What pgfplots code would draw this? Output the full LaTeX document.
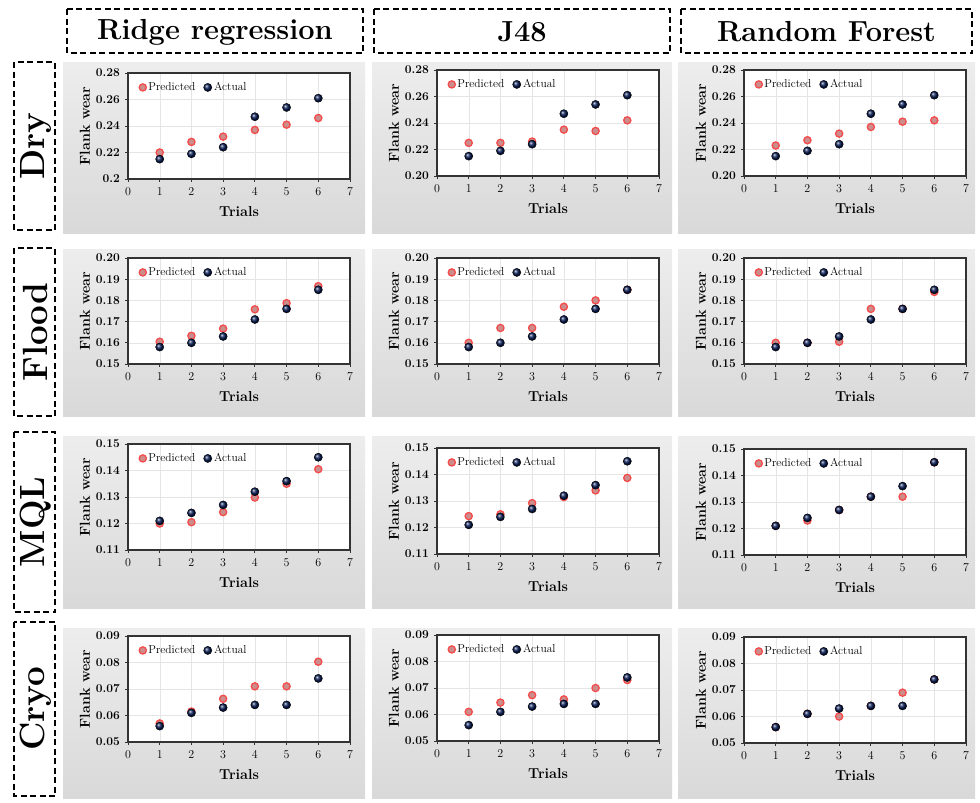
\documentclass[border=0pt]{standalone}
\usepackage{fontspec}
\usepackage{pgfplots}
\pgfplotsset{compat=1.18}
\definecolor{navyb}{RGB}{8,28,85}
\definecolor{predr}{RGB}{245,75,75}
\definecolor{predc}{RGB}{205,140,140}
\pgfplotsset{panel/.style={
  width=222pt,height=106pt,scale only axis,
  anchor=north west,
  xmin=0,xmax=7,xtick={0,1,2,3,4,5,6,7},
  scaled y ticks=false,
  grid=major, grid style={gray!20},
  axis line style={gray!40!black,line width=1.1pt},
  tick style={gray!40!black,line width=0.8pt},
  tick align=outside, tick pos=left, major tick length=3pt,
  xlabel={Trials}, ylabel={Flank wear},
  tick label style={font=\bfseries\fontsize{12}{14}\selectfont},
  xticklabel style={yshift=-2pt},
  yticklabel style={xshift=-1.5pt},
  label style={font=\bfseries\fontsize{14.4}{16}\selectfont},
  ylabel style={yshift=-1pt},
  xlabel style={yshift=-4pt},
  axis background/.style={fill=white},
  legend style={at={(0.045,0.94)},anchor=north west,draw=none,fill=none,
    legend columns=2,font=\fontsize{11.5}{14}\selectfont,
    /tikz/every even column/.append style={column sep=6pt},
    inner sep=1pt},
  legend cell align=left,
  legend image post style={xshift=3pt},
}}
\newcommand{\panel}[8]{%
\begin{axis}[panel,at={(#1pt,-#2pt)},ymin=#3,ymax=#4,ytick={#5},yticklabels={#6}]
\addplot[only marks,mark=*,mark size=3.6pt,mark options={draw=predr,line width=1.3pt,fill=predc}] coordinates {#7};
\addlegendentry{Predicted}
\addplot[only marks,mark=ball,mark size=4.1pt,ball color=navyb] coordinates {#8};
\addlegendentry{Actual}
\end{axis}}
\begin{document}
\begin{tikzpicture}[x=1pt,y=1pt]
\path (0pt,0pt) rectangle (980pt,-803pt);
% panel backgrounds
\foreach \xa/\xb in {63/365,372/672,678/975}{
  \foreach \ya/\yb in {62/233,249/416,436/608,628/798}{
    \shade[top color=gray!14,middle color=white,bottom color=gray!30] (\xa pt,-\ya pt) rectangle (\xb pt,-\yb pt);
  }}
% headers
\tikzset{hdr/.style={draw=black,line width=2.2pt,dash pattern=on 6pt off 3.5pt}}
\def\hfont{\bfseries\fontsize{29}{31}\selectfont}
\def\rfont{\bfseries\fontsize{35}{37}\selectfont}
\draw[hdr] (67pt,-9pt) rectangle (363pt,-53pt);
\node[font=\hfont] at (215pt,-32pt) {Ridge regression};
\draw[hdr] (374pt,-9pt) rectangle (670pt,-53pt);
\node[font=\hfont] at (522pt,-32pt) {J48};
\draw[hdr] (681pt,-9pt) rectangle (972pt,-53pt);
\node[font=\hfont] at (826.5pt,-32pt) {Random Forest};
\draw[hdr] (14pt,-62pt) rectangle (55pt,-230pt);
\node[font=\rfont,rotate=90] at (35.5pt,-146pt) {Dry};
\draw[hdr] (14pt,-248pt) rectangle (55pt,-416pt);
\node[font=\rfont,rotate=90] at (35.5pt,-332pt) {Flood};
\draw[hdr] (14pt,-432pt) rectangle (55pt,-612pt);
\node[font=\rfont,rotate=90] at (35.5pt,-522pt) {MQL};
\draw[hdr] (14pt,-622pt) rectangle (55pt,-796pt);
\node[font=\rfont,rotate=90] at (35.5pt,-709pt) {Cryo};
% ---- Dry
\panel{128}{73}{0.20}{0.28}{0.20,0.22,0.24,0.26,0.28}{0.2,0.22,0.24,0.26,0.28}
 {(1,0.220)(2,0.228)(3,0.232)(4,0.237)(5,0.241)(6,0.246)}
 {(1,0.215)(2,0.219)(3,0.224)(4,0.247)(5,0.254)(6,0.261)}
\panel{437}{70}{0.20}{0.28}{0.20,0.22,0.24,0.26,0.28}{0.20,0.22,0.24,0.26,0.28}
 {(1,0.225)(2,0.225)(3,0.226)(4,0.235)(5,0.234)(6,0.242)}
 {(1,0.215)(2,0.219)(3,0.224)(4,0.247)(5,0.254)(6,0.261)}
\panel{744}{70}{0.20}{0.28}{0.20,0.22,0.24,0.26,0.28}{0.20,0.22,0.24,0.26,0.28}
 {(1,0.223)(2,0.227)(3,0.232)(4,0.237)(5,0.241)(6,0.242)}
 {(1,0.215)(2,0.219)(3,0.224)(4,0.247)(5,0.254)(6,0.261)}
% ---- Flood
\panel{128}{258}{0.15}{0.20}{0.15,0.16,0.17,0.18,0.19,0.20}{0.15,0.16,0.17,0.18,0.19,0.20}
 {(1,0.1605)(2,0.1633)(3,0.1667)(4,0.1758)(5,0.1787)(6,0.1867)}
 {(1,0.158)(2,0.160)(3,0.163)(4,0.171)(5,0.176)(6,0.185)}
\panel{437}{258}{0.15}{0.20}{0.15,0.16,0.17,0.18,0.19,0.20}{0.15,0.16,0.17,0.18,0.19,0.20}
 {(1,0.160)(2,0.167)(3,0.167)(4,0.177)(5,0.180)(6,0.185)}
 {(1,0.158)(2,0.160)(3,0.163)(4,0.171)(5,0.176)(6,0.185)}
\panel{744}{258}{0.15}{0.20}{0.15,0.16,0.17,0.18,0.19,0.20}{0.15,0.16,0.17,0.18,0.19,0.20}
 {(1,0.160)(2,0.160)(3,0.1605)(4,0.176)(5,0.176)(6,0.184)}
 {(1,0.158)(2,0.160)(3,0.163)(4,0.171)(5,0.176)(6,0.185)}
% ---- MQL
\panel{128}{444}{0.11}{0.15}{0.11,0.12,0.13,0.14,0.15}{0.11,0.12,0.13,0.14,0.15}
 {(1,0.120)(2,0.1205)(3,0.1243)(4,0.1298)(5,0.1350)(6,0.1405)}
 {(1,0.121)(2,0.124)(3,0.127)(4,0.132)(5,0.136)(6,0.145)}
\panel{437}{448}{0.11}{0.15}{0.11,0.12,0.13,0.14,0.15}{0.11,0.12,0.13,0.14,0.15}
 {(1,0.1243)(2,0.1250)(3,0.1292)(4,0.1315)(5,0.1340)(6,0.1387)}
 {(1,0.121)(2,0.124)(3,0.127)(4,0.132)(5,0.136)(6,0.145)}
\panel{744}{449}{0.11}{0.15}{0.11,0.12,0.13,0.14,0.15}{0.11,0.12,0.13,0.14,0.15}
 {(1,0.121)(2,0.123)(3,0.127)(4,0.132)(5,0.132)(6,0.145)}
 {(1,0.121)(2,0.124)(3,0.127)(4,0.132)(5,0.136)(6,0.145)}
% ---- Cryo
\panel{128}{636}{0.05}{0.09}{0.05,0.06,0.07,0.08,0.09}{0.05,0.06,0.07,0.08,0.09}
 {(1,0.057)(2,0.0615)(3,0.0663)(4,0.071)(5,0.071)(6,0.0803)}
 {(1,0.056)(2,0.061)(3,0.063)(4,0.064)(5,0.064)(6,0.074)}
\panel{437}{635}{0.05}{0.09}{0.05,0.06,0.07,0.08,0.09}{0.05,0.06,0.07,0.08,0.09}
 {(1,0.061)(2,0.0645)(3,0.0673)(4,0.0657)(5,0.070)(6,0.073)}
 {(1,0.056)(2,0.061)(3,0.063)(4,0.064)(5,0.064)(6,0.074)}
\panel{744}{637}{0.05}{0.09}{0.05,0.06,0.07,0.08,0.09}{0.05,0.06,0.07,0.08,0.09}
 {(1,0.056)(2,0.061)(3,0.060)(4,0.064)(5,0.069)(6,0.074)}
 {(1,0.056)(2,0.061)(3,0.063)(4,0.064)(5,0.064)(6,0.074)}
\end{tikzpicture}
\end{document}
